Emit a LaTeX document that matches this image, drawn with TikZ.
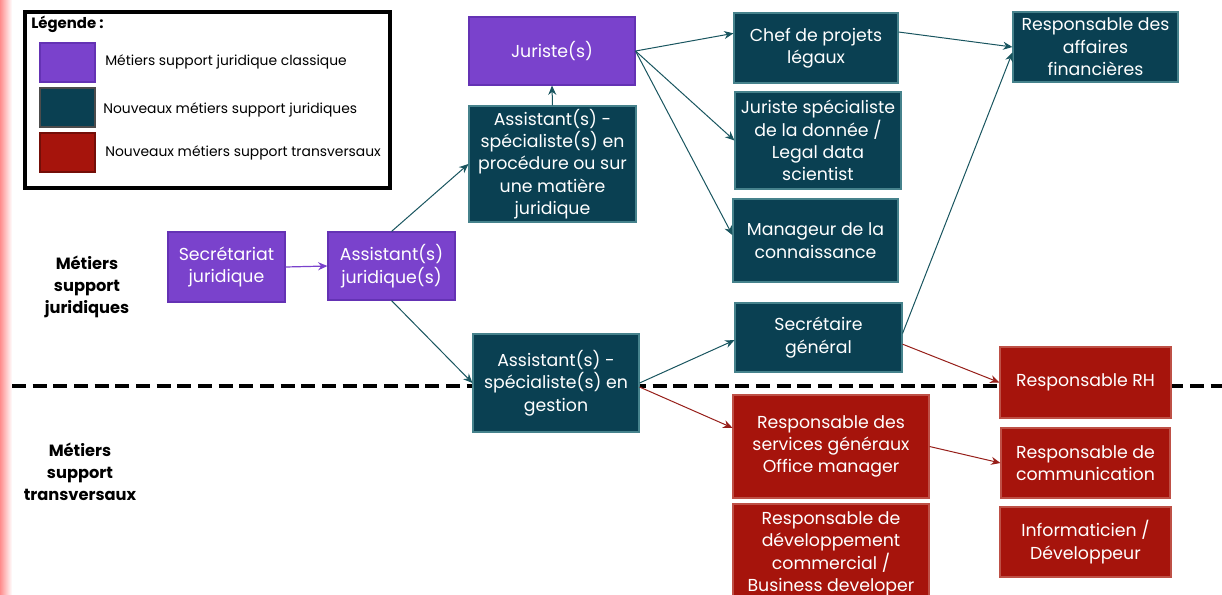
\documentclass[tikz,border=0pt]{standalone}
\usepackage{fontspec}
\setmainfont{Poppins}
\usetikzlibrary{arrows.meta,calc}
\definecolor{cpurple}{RGB}{122,66,204}
\definecolor{cpurpleB}{RGB}{100,50,180}
\definecolor{cteal}{RGB}{10,64,82}
\definecolor{ctealB}{RGB}{70,130,140}
\definecolor{cred}{RGB}{166,20,12}
\definecolor{credB}{RGB}{190,80,70}
\definecolor{ltealline}{RGB}{25,85,95}
\definecolor{lredline}{RGB}{150,30,25}
\begin{document}
\begin{tikzpicture}[x=0.75pt,y=-0.75pt,
  sz/.style 2 args={minimum width=#1*0.75pt, minimum height=#2*0.75pt},
  boxbase/.style={rectangle, inner sep=0pt, align=center, text=white, line width=0.8pt,
    font=\fontsize{13}{16.8}\selectfont},
  pbox/.style={boxbase, fill=cpurple, draw=cpurpleB},
  tbox/.style={boxbase, fill=cteal, draw=ctealB},
  rbox/.style={boxbase, fill=cred, draw=credB},
  swatch/.style={rectangle, inner sep=0pt, minimum width=41.25pt, minimum height=29.25pt, line width=0.8pt},
  legtext/.style={anchor=west, inner sep=0pt, font=\fontsize{10.4}{12}\selectfont},
  side/.style={align=center, inner sep=0pt, font=\fontsize{12.2}{16.5}\selectfont\bfseries},
  tarr/.style={draw=ltealline, line width=0.75pt, -{Stealth[length=7pt,width=6pt]}},
  rarr/.style={draw=lredline, line width=0.75pt, -{Stealth[length=7pt,width=6pt]}},
  parr/.style={draw=cpurple, line width=0.9pt, -{Stealth[length=7pt,width=6pt]}},
  sep/.style={line width=3pt, dash pattern=on 10.5pt off 5pt}
]
\useasboundingbox (0,0) rectangle (1222,594);
\clip (0,0) rectangle (1222,594);
\shade[left color=red!45, right color=white] (0,0) rectangle (12,594);

% separator
\coordinate (sepL) at (12,386);
\coordinate (sepR) at (1222,386);
\draw[sep] (sepL) -- (sepR);

% legend
\node[draw=black, line width=3pt, rectangle, sz={365}{176}, inner sep=0pt] (legend) at (207.5,100) {};
\node[anchor=west, inner sep=0pt, font=\fontsize{11.2}{13}\selectfont\bfseries] (legtitle) at (31,24) {Légende :};
\node[swatch, fill=cpurple, draw=cpurpleB] (sw1) at (67.5,62.5) {};
\node[swatch, fill=cteal, draw=black!70] (sw2) at (67.5,107.5) {};
\node[swatch, fill=cred, draw=cred!70!black] (sw3) at (67.5,152.5) {};
\node[legtext] (lt1) at (105,62) {Métiers support juridique classique};
\node[legtext] (lt2) at (103,110) {Nouveaux métiers support juridiques};
\node[legtext] (lt3) at (105,153) {Nouveaux métiers support transversaux};

% side labels
\node[side] (sj) at (87,287) {Métiers\\support\\juridiques};
\node[side] (st) at (80,472) {Métiers\\support\\transversaux};

% boxes
\node[pbox, sz={117}{70}] (secr) at (226.5,267) {Secrétariat\\juridique};
\node[pbox, sz={127}{68}] (aj) at (391.5,266) {Assistant(s)\\juridique(s)};
\node[pbox, sz={166}{68}] (jur) at (552,51) {Juriste(s)};
\node[tbox, sz={167}{116}] (proc) at (552.5,164) {Assistant(s) -\\spécialiste(s) en\\procédure ou sur\\une matière\\juridique};
\node[tbox, sz={164}{70}] (chef) at (816,48) {Chef de projets\\légaux};
\node[tbox, sz={166}{97}] (jsd) at (818,140.5) {Juriste spécialiste\\de la donnée /\\Legal data\\scientist};
\node[tbox, sz={165}{83}] (man) at (815.5,240.5) {Manageur de la\\connaissance};
\node[tbox, sz={165}{70}] (raf) at (1095.5,47) {Responsable des\\affaires\\financières};
\node[tbox, sz={167}{69}] (sg) at (818.5,337.5) {Secrétaire\\général};
\node[tbox, sz={166}{98}] (ges) at (556,383) {Assistant(s) -\\spécialiste(s) en\\gestion};
\node[rbox, sz={196}{103}] (sgx) at (831,446.5) {Responsable des\\services généraux\\Office manager};
\node[rbox, sz={196}{100}] (dev) at (831,554) {Responsable de\\développement\\commercial /\\Business developer};
\node[rbox, sz={171}{71}] (rh) at (1085.5,382.5) {Responsable RH};
\node[rbox, sz={169}{70}] (com) at (1085.5,463) {Responsable de\\communication};
\node[rbox, sz={171}{70}] (inf) at (1085.5,542) {Informaticien /\\Développeur};

% connectors
\draw[parr] (secr.east) -- (aj.west);
\draw[tarr] (aj.north) -- (proc.west);
\draw[tarr] (aj.south) -- (ges.west);
\draw[tarr] (proc.north) -- (jur.south);
\draw[tarr] (jur.east) -- ([yshift=11pt]chef.west);
\draw[tarr] (jur.east) -- (jsd.west);
\draw[tarr] (jur.east) -- ([yshift=4pt]man.west);
\draw[tarr] ([yshift=12pt]chef.east) -- (raf.west);
\draw[tarr] ([yshift=3pt]sg.east) -- ([yshift=-4pt]raf.west);
\draw[rarr] ([yshift=-5pt]sg.east) -- (rh.west);
\draw[tarr] (ges.east) -- ([yshift=-2pt]sg.west);
\draw[rarr] ([yshift=-3pt]ges.east) -- ([yshift=14pt]sgx.west);
\draw[rarr] (sgx.east) -- (com.west);
\end{tikzpicture}
\end{document}
